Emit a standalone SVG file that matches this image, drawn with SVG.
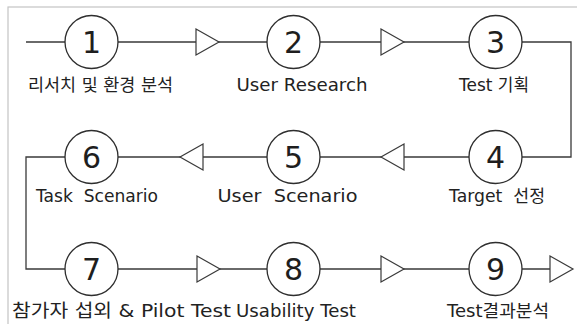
<svg xmlns="http://www.w3.org/2000/svg" width="577" height="324" viewBox="0 0 577 324">
<style>
.frame{fill:none;stroke:#c4c4c4;stroke-width:1.2}
.wire{fill:none;stroke:#3a3a3a;stroke-width:1.3}
.tri{fill:#fff;stroke:#3a3a3a;stroke-width:1.2;stroke-linejoin:miter}
.node circle{fill:#fff;stroke:#2e2e2e;stroke-width:1.3}
.num{font-family:"DejaVu Sans","Liberation Sans",sans-serif;font-size:30px;fill:#1e1e1e;text-anchor:middle}
.lbl{font-family:"DejaVu Sans","Noto Sans CJK KR",sans-serif;font-size:17px;fill:#222;text-anchor:middle}
.big{font-size:18.5px}
</style>
<defs>
<polygon id="tr" class="tri" points="0,-13 23,0 0,13"/>
<polygon id="tl" class="tri" points="23,-13 0,0 23,13"/>
</defs>
<rect class="frame" x="8" y="7" width="600" height="340"/>
<g id="connectors">
<path class="wire" d="M26,42 H571 V157 H26 V269 H550"/>
<use href="#tr" x="196" y="42"/>
<use href="#tr" x="381" y="42"/>
<use href="#tl" x="381" y="157"/>
<use href="#tl" x="180" y="157"/>
<use href="#tr" x="197" y="269"/>
<use href="#tr" x="381" y="269"/>
<use href="#tr" x="550" y="269"/>
</g>
<g id="node1" class="node"><circle cx="91.5" cy="42" r="26.5"/><text class="num" x="91.5" y="53">1</text><text class="lbl" x="100.5" y="91" textLength="145" lengthAdjust="spacingAndGlyphs">리서치 및 환경 분석</text></g>
<g id="node2" class="node"><circle cx="293.5" cy="42" r="26.5"/><text class="num" x="293.5" y="53">2</text><text class="lbl" x="302" y="91" textLength="131" lengthAdjust="spacingAndGlyphs">User Research</text></g>
<g id="node3" class="node"><circle cx="495.5" cy="42" r="26.5"/><text class="num" x="495.5" y="53">3</text><text class="lbl" x="494" y="91" textLength="70" lengthAdjust="spacingAndGlyphs">Test 기획</text></g>
<g id="node4" class="node"><circle cx="495.5" cy="157" r="26.5"/><text class="num" x="495.5" y="168">4</text><text class="lbl" x="497" y="202" textLength="96" lengthAdjust="spacingAndGlyphs" xml:space="preserve">Target  선정</text></g>
<g id="node5" class="node"><circle cx="293.5" cy="157" r="26.5"/><text class="num" x="293.5" y="168">5</text><text class="lbl" x="287.5" y="202" textLength="140" lengthAdjust="spacingAndGlyphs" xml:space="preserve">User  Scenario</text></g>
<g id="node6" class="node"><circle cx="91.5" cy="157" r="26.5"/><text class="num" x="91.5" y="168">6</text><text class="lbl" x="97" y="202" textLength="122" lengthAdjust="spacingAndGlyphs" xml:space="preserve">Task  Scenario</text></g>
<g id="node7" class="node"><circle cx="91.5" cy="269" r="26.5"/><text class="num" x="91.5" y="280">7</text><text class="lbl big" x="121.5" y="317" textLength="219" lengthAdjust="spacingAndGlyphs">참가자 섭외 &amp; Pilot Test</text></g>
<g id="node8" class="node"><circle cx="293.5" cy="269" r="26.5"/><text class="num" x="293.5" y="280">8</text><text class="lbl" x="296" y="317" textLength="120" lengthAdjust="spacingAndGlyphs">Usability Test</text></g>
<g id="node9" class="node"><circle cx="495.5" cy="269" r="26.5"/><text class="num" x="495.5" y="280">9</text><text class="lbl" x="498" y="317" textLength="102" lengthAdjust="spacingAndGlyphs">Test결과분석</text></g>
</svg>
